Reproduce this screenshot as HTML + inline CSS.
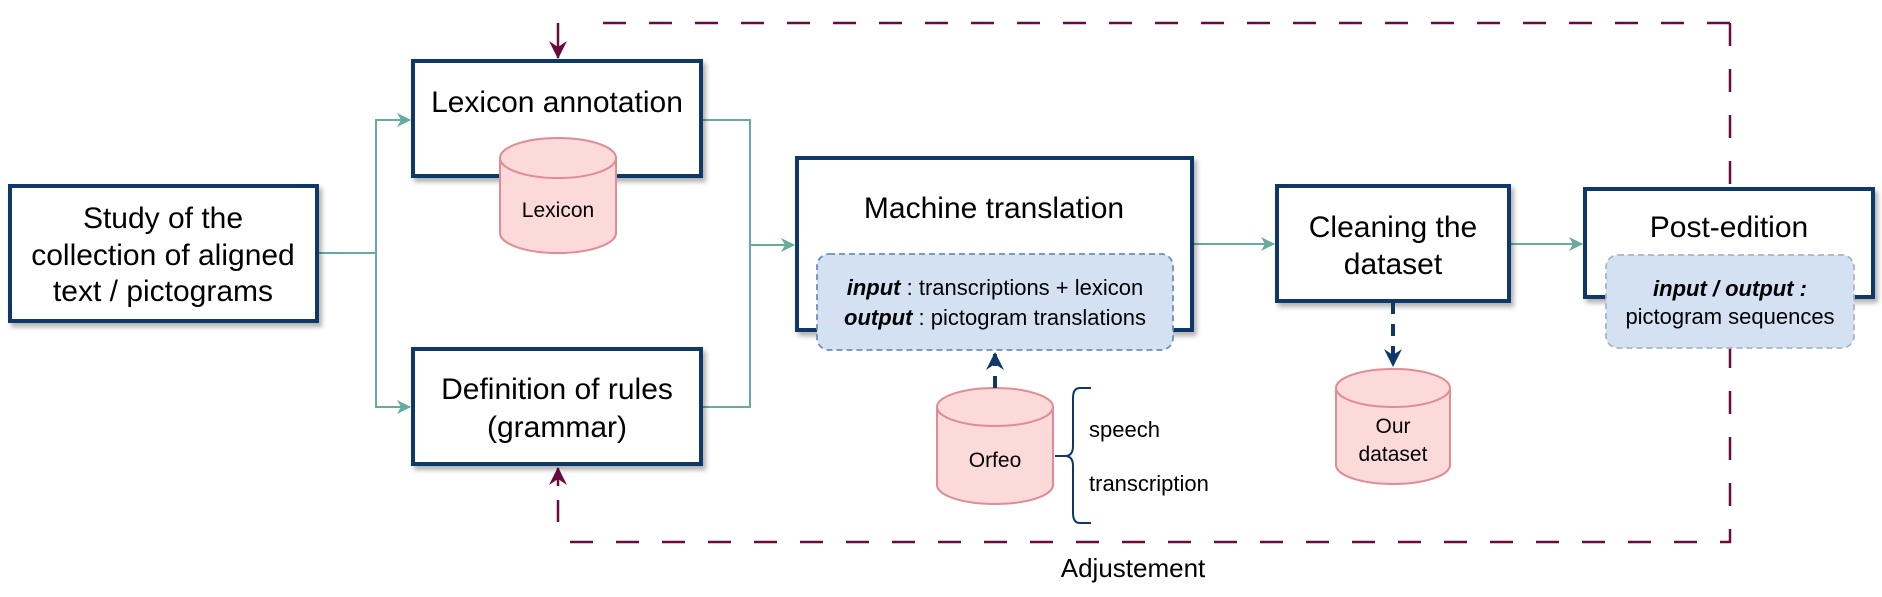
<!DOCTYPE html>
<html><head><meta charset="utf-8"><style>
html,body{margin:0;padding:0;background:#fff;}
svg{display:block;font-family:"Liberation Sans",sans-serif;}
</style></head><body>
<svg width="1882" height="597" viewBox="0 0 1882 597" xmlns="http://www.w3.org/2000/svg">
<defs>
<filter id="sh" x="-10%" y="-10%" width="130%" height="130%"><feDropShadow dx="3" dy="4" stdDeviation="2.5" flood-color="#000" flood-opacity="0.3"/></filter>
<marker id="ga" markerWidth="14" markerHeight="14" refX="13" refY="7" orient="auto" markerUnits="userSpaceOnUse"><path d="M0,0 L14,7 L0,14 L4,7 Z" fill="#67ab9f"/></marker>
<marker id="ma" markerWidth="18" markerHeight="18" refX="17" refY="9" orient="auto" markerUnits="userSpaceOnUse"><path d="M0,0 L18,9 L0,18 L6,9 Z" fill="#6b0a3e"/></marker>
<marker id="na" markerWidth="18" markerHeight="18" refX="17" refY="9" orient="auto" markerUnits="userSpaceOnUse"><path d="M0,0 L18,9 L0,18 L6,9 Z" fill="#0d3868"/></marker>
</defs>

<g fill="none" stroke="#67ab9f" stroke-width="2">
<path d="M318,253 H376 V120 H410" marker-end="url(#ga)"/>
<path d="M376,253 V407 H410" marker-end="url(#ga)"/>
<path d="M702,120 H750 V407 H702"/>
<path d="M750,245 H794" marker-end="url(#ga)"/>
<path d="M1194,244 H1274" marker-end="url(#ga)"/>
<path d="M1510,244 H1582" marker-end="url(#ga)"/>
</g>

<g fill="none" stroke="#6b0a3e" stroke-width="2.5">
<path d="M1730,23 H582" stroke-dasharray="23 23"/>
<path d="M558,23 V58" marker-end="url(#ma)"/>
<path d="M1730,23 V542 H558" stroke-dasharray="23 23"/>
<path d="M558,522 V468" stroke-dasharray="22 14" marker-end="url(#ma)"/>
</g>
<text x="1133" y="577" font-size="26" text-anchor="middle" fill="#000">Adjustement</text>

<g fill="#fff" stroke="#0d3868" stroke-width="4" filter="url(#sh)">
<rect x="10" y="186" width="307" height="135"/>
<rect x="413" y="61" width="288" height="115"/>
<rect x="413" y="349" width="288" height="115"/>
<rect x="797" y="158" width="395" height="172"/>
<rect x="1277" y="186" width="232" height="115"/>
<rect x="1585" y="189" width="288" height="108"/>
</g>

<g font-size="30" text-anchor="middle" fill="#000">
<text x="163" y="228">Study of the</text>
<text x="163" y="265">collection of aligned</text>
<text x="163" y="301">text / pictograms</text>
<text x="557" y="112">Lexicon annotation</text>
<text x="557" y="399">Definition of rules</text>
<text x="557" y="437">(grammar)</text>
<text x="994" y="218">Machine translation</text>
<text x="1393" y="237">Cleaning the</text>
<text x="1393" y="274">dataset</text>
<text x="1729" y="237">Post-edition</text>
</g>

<g fill="#fddada" stroke="#e08c96" stroke-width="2">
<path d="M500,158 V233 A58,20 0 0 0 616,233 V158"/>
<ellipse cx="558" cy="158" rx="58" ry="20"/>
<path d="M937,407 V485 A58,19 0 0 0 1053,485 V407"/>
<ellipse cx="995" cy="407" rx="58" ry="19"/>
<path d="M1336,388 V465 A57,19 0 0 0 1450,465 V388"/>
<ellipse cx="1393" cy="388" rx="57" ry="19"/>
</g>
<g font-size="21" text-anchor="middle" fill="#000">
<text x="558" y="217">Lexicon</text>
<text x="995" y="467">Orfeo</text>
<text x="1393" y="433">Our</text>
<text x="1393" y="461">dataset</text>
</g>

<path d="M1091,388 H1080 Q1073,388 1073,398 V446 Q1073,456 1065,456 H1055 M1065,456 Q1073,456 1073,466 V513 Q1073,523 1080,523 H1091" fill="none" stroke="#0d3868" stroke-width="2"/>
<g font-size="22" fill="#000">
<text x="1089" y="437">speech</text>
<text x="1089" y="491">transcription</text>
</g>

<path d="M995,388 V353" stroke="#0d3868" stroke-width="4" fill="none" stroke-dasharray="12 10" marker-end="url(#na)"/>
<path d="M1393,302 V366" stroke="#0d3868" stroke-width="4" fill="none" stroke-dasharray="12 10" marker-end="url(#na)"/>

<rect x="817" y="254" width="356" height="96" rx="12" fill="#d4e1f2" stroke="#6c8ebf" stroke-width="1.8" stroke-dasharray="6 4"/>
<g font-size="22" text-anchor="middle" fill="#000">
<text x="995" y="295"><tspan font-weight="bold" font-style="italic">input</tspan> : transcriptions + lexicon</text>
<text x="995" y="325"><tspan font-weight="bold" font-style="italic">output</tspan> : pictogram translations</text>
</g>
<rect x="1606" y="255" width="248" height="93" rx="12" fill="#d4e1f2" stroke="#a8b4c4" stroke-width="1.8" stroke-dasharray="6 4"/>
<g font-size="22" text-anchor="middle" fill="#000">
<text x="1730" y="296" font-weight="bold" font-style="italic">input / output :</text>
<text x="1730" y="324">pictogram sequences</text>
</g>
</svg>
</body></html>
